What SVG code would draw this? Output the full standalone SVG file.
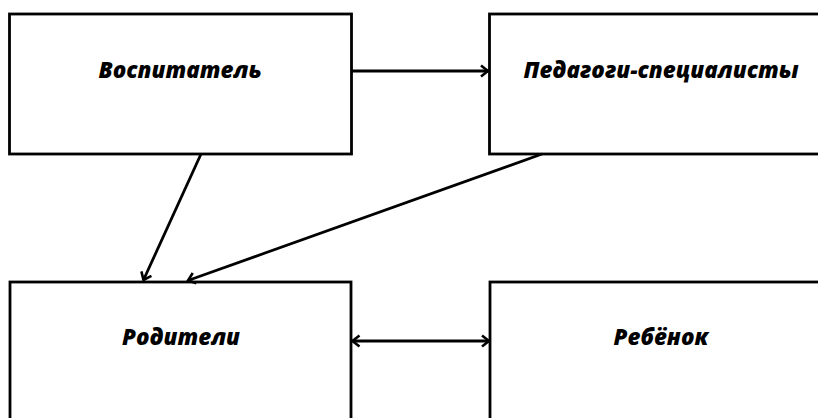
<svg xmlns="http://www.w3.org/2000/svg" width="818" height="418" viewBox="0 0 818 418">
<style>
.box{fill:#fff;stroke:#000;stroke-width:2.8}
.lbl{font-family:"Open Sans","Noto Sans","DejaVu Sans",sans-serif;font-weight:800;font-style:italic;font-size:22.4px;fill:#000;text-anchor:middle}
.con{stroke:#000;stroke-width:2.8;fill:none}
</style>
<defs>
<marker id="ah" viewBox="-10 -8 12 16" refX="0" refY="0" markerWidth="12" markerHeight="16" markerUnits="userSpaceOnUse" orient="auto-start-reverse">
<path d="M-7,-5.5 L0,0 L-7,5.5" fill="none" stroke="#000" stroke-width="2.6"/>
</marker>
</defs>
<rect width="818" height="418" fill="#fff"/>
<g id="node-vospitatel">
<rect class="box" x="9.5" y="14" width="342" height="140"/>
<text class="lbl" x="180" y="77.5">Воспитатель</text>
</g>
<g id="node-pedagogi">
<rect class="box" x="489.5" y="14" width="340" height="140"/>
<text class="lbl" x="661" y="77.5">Педагоги-специалисты</text>
</g>
<g id="node-roditeli">
<rect class="box" x="10" y="282" width="341" height="150"/>
<text class="lbl" x="181" y="345">Родители</text>
</g>
<g id="node-rebenok">
<rect class="box" x="490" y="282" width="340" height="150"/>
<text class="lbl" x="661" y="345">Ребёнок</text>
</g>
<g id="connectors">
<line class="con" x1="351" y1="71" x2="488" y2="71" marker-end="url(#ah)"/>
<line class="con" x1="201" y1="154" x2="143.5" y2="280" marker-end="url(#ah)"/>
<line class="con" x1="542" y1="154" x2="188" y2="280.5" marker-end="url(#ah)"/>
<line class="con" x1="352.5" y1="341" x2="489" y2="341" marker-start="url(#ah)" marker-end="url(#ah)"/>
</g>
</svg>
